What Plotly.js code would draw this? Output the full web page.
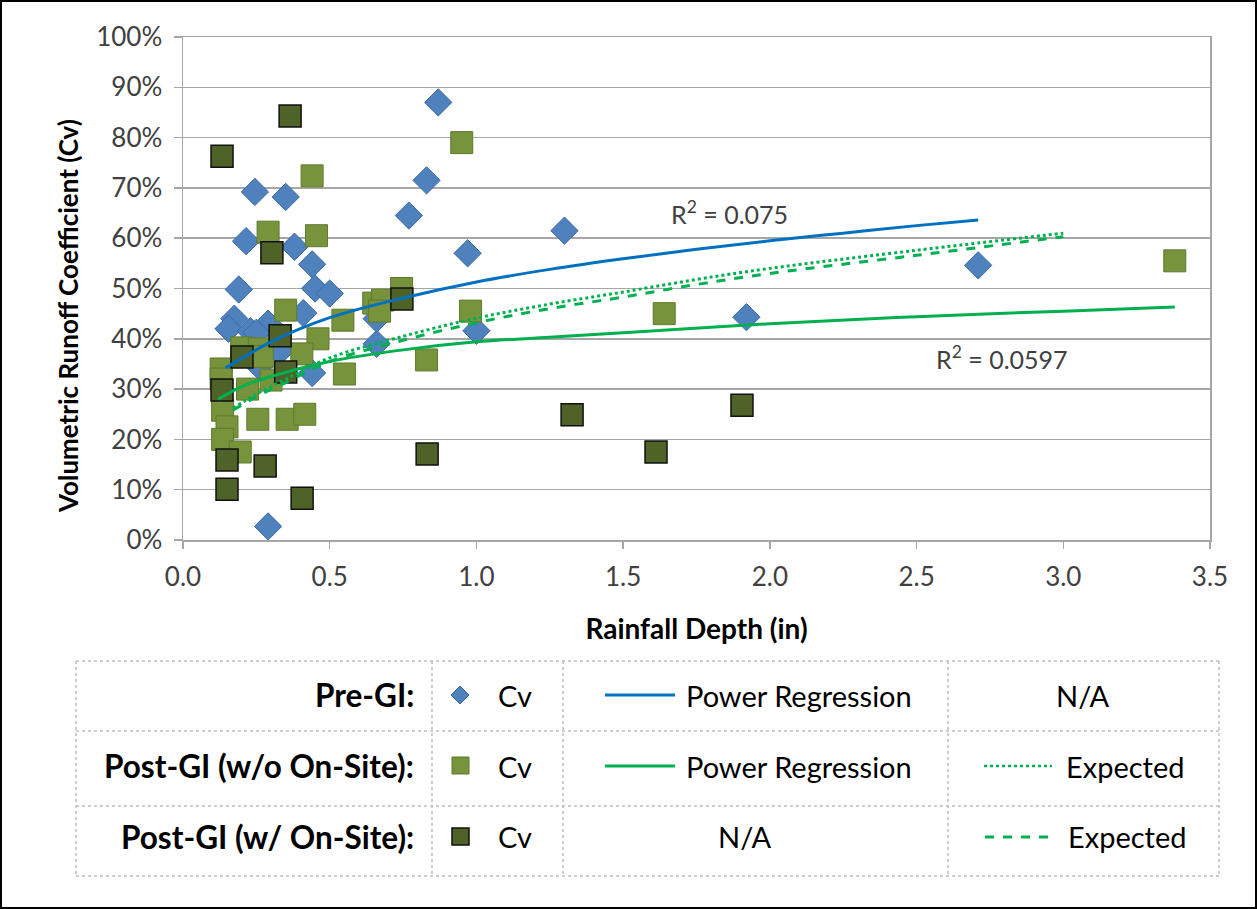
<!DOCTYPE html>
<html><head><meta charset="utf-8">
<script src="https://cdn.plot.ly/plotly-3.0.1.min.js"></script>
<style>body{margin:0;background:#fff}#c{width:1257px;height:909px}</style>
</head><body><div id="c"></div>
<script>
// Pre-GI Cv (diamonds)
const preX = [0.87,0.83,0.77,1.30,0.97,2.71,1.92,1.00,0.245,0.35,0.215,0.38,0.44,0.19,0.45,0.50,0.175,0.155,0.41,0.29,0.23,0.25,0.33,0.26,0.66,0.66,0.44,0.29];
const preY = [0.87,0.715,0.645,0.615,0.57,0.546,0.443,0.416,0.692,0.682,0.594,0.583,0.548,0.498,0.50,0.49,0.44,0.42,0.451,0.43,0.415,0.412,0.375,0.345,0.39,0.44,0.332,0.027];
// Post-GI (w/o On-Site) Cv (light squares)
const postX = [0.95,0.44,0.29,0.455,0.35,0.545,0.745,0.65,0.68,0.98,0.67,0.83,0.55,0.46,0.405,0.20,0.26,0.27,0.30,0.22,0.13,0.13,0.135,0.15,0.135,0.195,0.255,0.355,0.415,1.64,3.38];
const postY = [0.79,0.724,0.612,0.605,0.457,0.437,0.50,0.471,0.477,0.455,0.455,0.358,0.33,0.40,0.37,0.382,0.38,0.365,0.318,0.30,0.34,0.32,0.258,0.225,0.20,0.175,0.24,0.24,0.25,0.45,0.555];
// Post-GI (w/ On-Site) Cv (dark squares)
const onX = [0.133,0.365,0.303,0.331,0.201,0.35,0.746,0.133,0.15,0.15,0.28,0.406,0.832,1.326,1.612,1.905];
const onY = [0.763,0.843,0.571,0.406,0.364,0.334,0.479,0.298,0.159,0.101,0.147,0.083,0.171,0.249,0.175,0.268];
// Trend curves
const preRegX = [0.145,0.2,0.3,0.5,0.75,1.0,1.25,1.5,1.75,2.0,2.25,2.5,2.71];
const preRegY = [0.342,0.361,0.394,0.442,0.481,0.513,0.538,0.559,0.578,0.595,0.610,0.625,0.636];
const postRegX = [0.12,0.2,0.3,0.5,0.75,1.0,1.25,1.5,2.0,2.5,3.0,3.38];
const postRegY = [0.28,0.305,0.325,0.355,0.378,0.394,0.403,0.412,0.43,0.444,0.455,0.463];
const expWoX = [0.17,0.25,0.35,0.5,0.75,1.0,1.25,1.5,1.75,2.0,2.5,3.0];
const expWoY = [0.262,0.29,0.32,0.362,0.405,0.441,0.469,0.493,0.518,0.54,0.576,0.61];
const expWX = [0.17,0.25,0.35,0.5,0.75,1.0,1.25,1.5,1.75,2.0,2.5,3.0];
const expWY = [0.258,0.285,0.313,0.355,0.397,0.432,0.46,0.483,0.508,0.53,0.566,0.603];

const FONT = 'Lato, "Open Sans", sans-serif';
const L=183, R=1210, T=37, B=540;
const W=R-L, H=B-T;
const px=x=>(x-L)/W, py=y=>(B-y)/H;

const traces = [
 {x:preX,y:preY,mode:'markers',type:'scatter',marker:{symbol:'diamond',size:21,color:'#4F81BD',line:{color:'#3A6AA8',width:1}}},
 {x:postX,y:postY,mode:'markers',type:'scatter',marker:{symbol:'square',size:22,color:'#77933C',line:{color:'#5E7A2C',width:1}}},
 {x:onX,y:onY,mode:'markers',type:'scatter',marker:{symbol:'square',size:22,color:'#4F6228',line:{color:'#111',width:1.5}}},
 {x:preRegX,y:preRegY,mode:'lines',type:'scatter',line:{color:'#0070C0',width:3,shape:'spline'}},
 {x:postRegX,y:postRegY,mode:'lines',type:'scatter',line:{color:'#00B050',width:3,shape:'spline'}},
 {x:expWoX,y:expWoY,mode:'lines',type:'scatter',line:{color:'#00B050',width:3,dash:'dot',shape:'spline'}},
 {x:expWX,y:expWY,mode:'lines',type:'scatter',line:{color:'#00B050',width:3,dash:'dash',shape:'spline'}}
];

const shapes = [];
const annotations = [];
const dotted = {color:'#BFBFBF',width:1.5,dash:'dot'};
function hline(x0,x1,y){shapes.push({type:'line',xref:'paper',yref:'paper',x0:px(x0),x1:px(x1),y0:py(y),y1:py(y),line:dotted});}
function vline(x,y0,y1){shapes.push({type:'line',xref:'paper',yref:'paper',x0:px(x),x1:px(x),y0:py(y0),y1:py(y1),line:dotted});}
// table grid
[661,731,806,876].forEach(y=>hline(76,1219,y));
[76,432,563,948,1219].forEach(x=>vline(x,661,876));
// outer border
shapes.push({type:'rect',xref:'paper',yref:'paper',x0:px(1),x1:px(1256),y0:py(1),y1:py(908),line:{color:'#000',width:2}});
function txt(x,y,t,opts){annotations.push(Object.assign({xref:'paper',yref:'paper',x:px(x),y:py(y),text:t,showarrow:false,font:{family:FONT,size:29,color:'#000'},xanchor:'left',yanchor:'middle'},opts||{}));}
// column 1 labels
const rowY=[695,766,837];
const rowLabels=['Pre-GI:','Post-GI (w/o On-Site):','Post-GI (w/ On-Site):'];
rowLabels.forEach((t,i)=>txt(416,rowY[i],'<b>'+t+'</b>',{xanchor:'right',font:{family:FONT,size:31.5,color:'#000'}}));
// column 2 markers
shapes.push({type:'path',xref:'paper',yref:'paper',path:`M ${px(460)} ${py(686)} L ${px(469)} ${py(695)} L ${px(460)} ${py(704)} L ${px(451)} ${py(695)} Z`,fillcolor:'#4F81BD',line:{color:'#3A6AA8',width:1}});
shapes.push({type:'rect',xref:'paper',yref:'paper',x0:px(452),x1:px(469),y0:py(757),y1:py(774),fillcolor:'#77933C',line:{color:'#5E7A2C',width:1}});
shapes.push({type:'rect',xref:'paper',yref:'paper',x0:px(452),x1:px(469),y0:py(828),y1:py(845),fillcolor:'#4F6228',line:{color:'#111',width:1.5}});
rowY.forEach(y=>txt(496,y,'Cv'));
// column 3
shapes.push({type:'line',xref:'paper',yref:'paper',x0:px(605),x1:px(675),y0:py(695),y1:py(695),line:{color:'#0070C0',width:3}});
shapes.push({type:'line',xref:'paper',yref:'paper',x0:px(605),x1:px(675),y0:py(766),y1:py(766),line:{color:'#00B050',width:3}});
txt(684,695,'Power Regression');
txt(684,766,'Power Regression');
txt(745,837,'N/A',{xanchor:'center'});
// column 4
txt(1083,695,'N/A',{xanchor:'center'});
shapes.push({type:'line',xref:'paper',yref:'paper',x0:px(984),x1:px(1052),y0:py(766),y1:py(766),line:{color:'#00B050',width:2.5,dash:'dot'}});
shapes.push({type:'line',xref:'paper',yref:'paper',x0:px(985),x1:px(1055),y0:py(837),y1:py(837),line:{color:'#00B050',width:3,dash:'dash'}});
txt(1064,766,'Expected');
txt(1066,837,'Expected');
// R² labels
annotations.push({x:1.864,y:0.651,xref:'x',yref:'y',text:'R<sup>2</sup> = 0.075',showarrow:false,font:{family:FONT,size:25,color:'#404040'}});
annotations.push({x:2.79,y:0.362,xref:'x',yref:'y',text:'R<sup>2</sup> = 0.0597',showarrow:false,font:{family:FONT,size:25,color:'#404040'}});
// y axis title (placed as in the reference, slightly below plot centre)
annotations.push({xref:'paper',yref:'paper',x:px(68),y:py(316),text:'<b>Volumetric Runoff Coefficient (Cv)</b>',textangle:-90,showarrow:false,xanchor:'center',yanchor:'middle',font:{family:FONT,size:26,color:'#000'}});

const layout = {
 width:1257,height:909,
 margin:{l:L,r:1257-R,t:T,b:909-B},
 paper_bgcolor:'#fff',plot_bgcolor:'#fff',
 showlegend:false,
 font:{family:FONT,size:26,color:'#404040'},
 xaxis:{range:[0,3.5],dtick:0.5,tick0:0,tickformat:'.1f',showgrid:false,zeroline:false,
   showline:true,linecolor:'#A6A6A6',linewidth:1.5,mirror:true,ticks:'outside',ticklen:7,tickcolor:'#A6A6A6',tickwidth:1.5,
   ticklabelstandoff:6,
   tickfont:{family:FONT,size:26,color:'#404040'},
   title:{text:'<b>Rainfall Depth (in)</b>',font:{family:FONT,size:28,color:'#000'},standoff:28}},
 yaxis:{range:[0,1],dtick:0.1,tick0:0,tickformat:'.0%',showgrid:true,gridcolor:'#A6A6A6',gridwidth:1.5,zeroline:false,
   showline:true,linecolor:'#A6A6A6',linewidth:1.5,mirror:true,ticks:'outside',ticklen:8,tickcolor:'#A6A6A6',tickwidth:1.5,
   ticklabelstandoff:6,
   tickfont:{family:FONT,size:26,color:'#404040'}},
 shapes:shapes,annotations:annotations
};
Plotly.newPlot('c',traces,layout,{staticPlot:true,displayModeBar:false});
</script></body></html>
